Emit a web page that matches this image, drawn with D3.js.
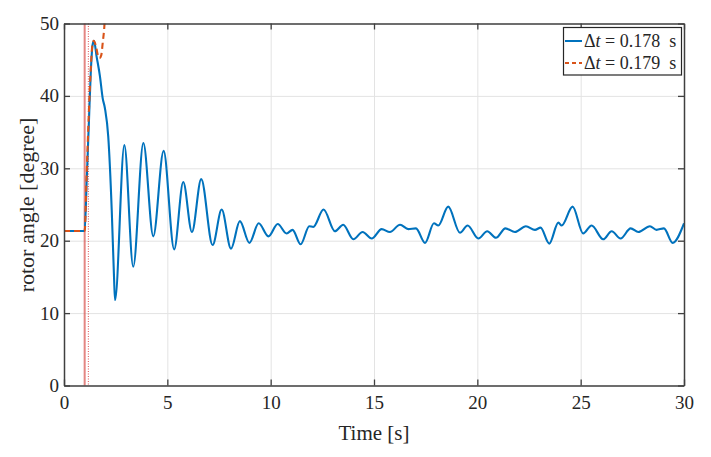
<!DOCTYPE html>
<html>
<head>
<meta charset="utf-8">
<script src="https://cdn.jsdelivr.net/npm/d3@7"></script>
<style>
  html, body { margin: 0; padding: 0; background: #fff; }
  svg { display: block; }
  svg text { font-family: "Liberation Serif", "Times New Roman", serif !important; }
</style>
</head>
<body>
<svg id="chart" width="711" height="457"></svg>
<script>
// ---- data ----
const xTicks = [0, 5, 10, 15, 20, 25, 30];
const yTicks = [0, 10, 20, 30, 40, 50];
const seriesNames = ["0.178", "0.179"];
const faultTimes = [1.0, 1.178];

const timeBlue = [0, 1.0, 1.1, 1.2, 1.3, 1.38, 1.45, 1.58, 1.74, 1.87, 1.98, 2.14, 2.31, 2.42, 2.47,
  2.92, 3.35, 3.84, 4.32, 4.82, 5.33, 5.77, 6.19, 6.64, 7.19, 7.63, 8.08, 8.51, 8.97, 9.42, 9.89,
  10.34, 10.77, 11.06, 11.45, 11.87, 12.06, 12.56, 13.11, 13.51, 14.0, 14.45, 14.89, 15.37, 15.77,
  16.26, 16.66, 17.03, 17.47, 17.9, 18.11, 18.59, 19.16, 19.53, 20.05, 20.48, 20.9, 21.36, 21.82,
  22.35, 22.79, 23.06, 23.48, 23.92, 24.08, 24.61, 25.12, 25.53, 26.09, 26.5, 26.93, 27.42, 27.79,
  28.35, 28.67, 29.03, 29.45, 30.0];
const angleBlue = [21.34, 21.34, 28.5, 36, 43.5, 47, 47.6, 45.4, 42.7, 39.7, 38.3, 34.4, 24.2, 15.0, 11.8,
  33.2, 16.4, 33.5, 20.6, 32.4, 18.8, 28.1, 21.2, 28.5, 19.4, 24.3, 18.9, 22.7, 19.7, 22.4, 20.6,
  22.3, 21.0, 21.5, 19.5, 22.0, 21.9, 24.3, 21.3, 22.2, 20.2, 21.2, 20.3, 21.6, 21.2,
  22.2, 21.6, 21.7, 19.7, 22.4, 22.1, 24.7, 21.1, 22.1, 20.3, 21.3, 20.4, 21.7, 21.2,
  22.0, 21.5, 21.8, 19.6, 22.5, 22.1, 24.7, 21.0, 22.1, 20.2, 21.3, 20.3, 21.7, 21.2,
  22.0, 21.5, 21.7, 19.7, 22.4];

const timeOrange = [0, 1.0, 1.1, 1.2, 1.3, 1.38, 1.44, 1.55, 1.64, 1.72, 1.8, 1.88, 1.95, 2.0];
const angleOrange = [21.34, 21.34, 29.5, 37.5, 44, 47.2, 47.6, 46.8, 45.6, 45.2, 45.6, 47.5, 49.5, 52];

// ---- layout ----
const svg = d3.select("#chart");
const margin = { left: 64, top: 23.5, right: 711 - 684, bottom: 457 - 385.5 };
const W = 711 - margin.left - margin.right;
const H = 457 - margin.top - margin.bottom;
const axisColor = "#404040";
const serif = '"Liberation Serif", "Times New Roman", serif';
const tickFont = 19;

const x = d3.scaleLinear().domain([0, 30]).range([0, W]);
const y = d3.scaleLinear().domain([0, 50]).range([H, 0]);

const g = svg.append("g").attr("transform", `translate(${margin.left},${margin.top})`);

svg.append("defs").append("clipPath").attr("id", "clip")
  .append("rect").attr("x", 0).attr("y", 0).attr("width", W).attr("height", H);

// grid
g.append("g").attr("transform", `translate(0,${H})`)
  .call(d3.axisBottom(x).tickValues(xTicks).tickSize(-H).tickFormat(""))
  .call(s => { s.select(".domain").remove(); s.selectAll("line").attr("stroke", "#e3e3e3").attr("stroke-width", 1); });
g.append("g")
  .call(d3.axisLeft(y).tickValues(yTicks).tickSize(-W).tickFormat(""))
  .call(s => { s.select(".domain").remove(); s.selectAll("line").attr("stroke", "#e3e3e3").attr("stroke-width", 1); });

// fault lines
g.append("line").attr("x1", x(faultTimes[0])).attr("x2", x(faultTimes[0]))
  .attr("y1", 0).attr("y2", H).attr("stroke", "#d9534f").attr("stroke-width", 2).attr("opacity", 0.7);
g.append("line").attr("x1", x(faultTimes[1])).attr("x2", x(faultTimes[1]))
  .attr("y1", 0).attr("y2", H).attr("stroke", "#e05050").attr("stroke-width", 1)
  .attr("stroke-dasharray", "1,1.5");

// lines
const line = d3.line().x(d => x(d[0])).y(d => y(d[1])).curve(d3.curveMonotoneX);
const blueData = timeBlue.map((t, i) => [t, angleBlue[i]]);
const orangeData = timeOrange.map((t, i) => [t, angleOrange[i]]);

const lines = g.append("g").attr("clip-path", "url(#clip)");
lines.append("path").datum(blueData).attr("d", line)
  .attr("fill", "none").attr("stroke", "#0072BD").attr("stroke-width", 2.1);
lines.append("path").datum(orangeData).attr("d", line)
  .attr("fill", "none").attr("stroke", "#D95319").attr("stroke-width", 2.1)
  .attr("stroke-dasharray", "6,4");

// axes
function styleAxis(s) {
  s.attr("font-family", serif);
  s.select(".domain").attr("stroke", axisColor).attr("stroke-width", 1.5);
  s.selectAll(".tick line").attr("stroke", axisColor).attr("stroke-width", 1.3);
  s.selectAll(".tick text").attr("fill", "#262626").attr("font-size", tickFont)
    .style("font-family", serif);
}
g.append("g").attr("transform", `translate(0,${H})`)
  .call(d3.axisBottom(x).tickValues(xTicks).tickSize(-6).tickSizeOuter(0).tickPadding(10))
  .call(styleAxis);
g.append("g")
  .call(d3.axisLeft(y).tickValues(yTicks).tickSize(-6).tickSizeOuter(0).tickPadding(5))
  .call(styleAxis);
g.append("g")
  .call(d3.axisTop(x).tickValues(xTicks).tickSize(-6).tickSizeOuter(0).tickFormat(""))
  .call(styleAxis);
g.append("g").attr("transform", `translate(${W},0)`)
  .call(d3.axisRight(y).tickValues(yTicks).tickSize(-6).tickSizeOuter(0).tickFormat(""))
  .call(styleAxis);

// axis labels
svg.append("text").attr("x", margin.left + W / 2).attr("y", 440)
  .attr("text-anchor", "middle").attr("font-size", 21).attr("fill", "#262626")
  .style("font-family", serif).text("Time [s]");
svg.append("text").attr("transform", `translate(34,${205}) rotate(-90)`)
  .attr("text-anchor", "middle").attr("font-size", 22).attr("fill", "#262626")
  .style("font-family", serif).text("rotor angle [degree]");

// legend
const lg = svg.append("g");
lg.append("rect").attr("x", 563.5).attr("y", 27.5).attr("width", 118).attr("height", 47.5)
  .attr("fill", "#fff").attr("stroke", "#262626").attr("stroke-width", 1.2);
const legendColors = ["#0072BD", "#D95319"];
const legendDash = [null, "4,3"];
seriesNames.forEach((name, i) => {
  const ly = 41 + i * 22;
  lg.append("line").attr("x1", 565).attr("x2", 582).attr("y1", ly).attr("y2", ly)
    .attr("stroke", legendColors[i]).attr("stroke-width", 2)
    .attr("stroke-dasharray", legendDash[i]);
  const t = lg.append("text").attr("x", 584).attr("y", ly + 6).attr("font-size", 18)
    .attr("fill", "#262626").style("font-family", serif).style("white-space", "pre");
  t.append("tspan").text("Δ");
  t.append("tspan").attr("font-style", "italic").text("t");
  t.append("tspan").text(" = " + name + "  s");
});
</script>
</body>
</html>
